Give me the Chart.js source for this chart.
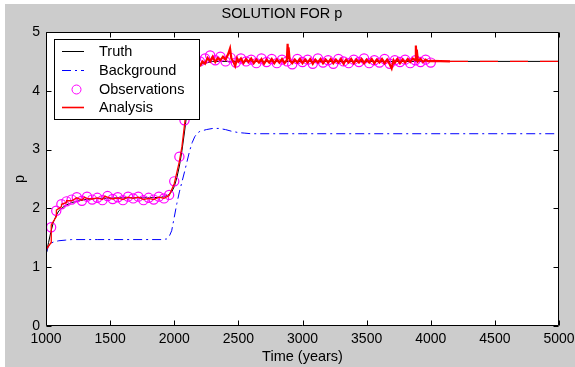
<!DOCTYPE html>
<html><head><meta charset="utf-8">
<script src="https://cdn.jsdelivr.net/npm/chart.js@4"></script>
<style>html,body{margin:0;padding:0;background:#fff;}canvas{display:block;}</style>
</head><body>
<canvas id="c" width="575" height="367"></canvas>
<script>
const chartTitle = 'SOLUTION FOR p';
const xTitle = 'Time (years)';
const yTitle = 'p';
const seriesNames = ['Truth', 'Background', 'Observations', 'Analysis'];
const seriesColors = ['#000000', '#0000ff', '#ff00ff', '#ff0000'];
const xTicks = [1000, 1500, 2000, 2500, 3000, 3500, 4000, 4500, 5000];
const yTicks = [0, 1, 2, 3, 4, 5];

const truthX = [1000,1010,1020,1040,1060,1080,1100,1150,1200,1300,1400,1600,1800,1900,1950,1980,2000,2020,2040,2060,2080,2100,2120,2150,2180,2220,2300,2500,5000];
const truthY = [1.2,1.32,1.42,1.62,1.78,1.88,1.96,2.05,2.1,2.15,2.17,2.18,2.18,2.19,2.22,2.28,2.37,2.52,2.72,2.98,3.3,3.65,3.95,4.22,4.38,4.46,4.5,4.5,4.5];

const backgroundX = [1000,1010,1020,1040,1060,1080,1100,1150,1200,1400,1600,1800,1900,1940,1960,1980,2000,2020,2040,2060,2080,2100,2120,2140,2160,2180,2200,2250,2300,2350,2400,2450,2500,2550,2600,3000,4000,5000];
const backgroundY = [1.22,1.3,1.36,1.41,1.43,1.44,1.45,1.46,1.47,1.47,1.47,1.47,1.47,1.48,1.52,1.62,1.85,2.08,2.28,2.45,2.62,2.8,2.98,3.12,3.22,3.28,3.31,3.34,3.36,3.36,3.34,3.31,3.29,3.28,3.27,3.27,3.27,3.27];

const obsX = [1040,1080,1120,1160,1200,1240,1280,1320,1360,1400,1440,1480,1520,1560,1600,1640,1680,1720,1760,1800,1840,1880,1920,1960,2000,2040,2080,2120,2160,2200,2240,2280,2320,2360,2400,2440,2480,2520,2560,2600,2640,2680,2720,2760,2800,2840,2880,2920,2960,3000,3040,3080,3120,3160,3200,3240,3280,3320,3360,3400,3440,3480,3520,3560,3600,3640,3680,3720,3760,3800,3840,3880,3920,3960,4000];
const obsY = [1.68,1.96,2.07,2.12,2.15,2.19,2.13,2.20,2.15,2.18,2.14,2.21,2.16,2.19,2.14,2.20,2.17,2.20,2.14,2.18,2.15,2.20,2.17,2.23,2.46,2.88,3.50,4.25,4.42,4.50,4.55,4.60,4.52,4.58,4.50,4.56,4.48,4.55,4.50,4.53,4.47,4.55,4.49,4.54,4.47,4.53,4.50,4.45,4.54,4.49,4.53,4.46,4.55,4.48,4.52,4.46,4.54,4.50,4.47,4.53,4.49,4.55,4.47,4.52,4.48,4.54,4.46,4.52,4.49,4.53,4.47,4.52,4.49,4.53,4.48];

const analysisX = [1000,1001,1040,1041,1080,1081,1120,1121,1160,1161,1200,1240,1280,1300,1320,1360,1400,1440,1460,1480,1520,1560,1600,1640,1680,1720,1760,1800,1840,1880,1920,1960,2000,2040,2060,2080,2100,2120,2140,2160,2180,
2200,2220,2240,2260,2280,2300,2320,2340,2360,2380,2400,2420,2435,2445,2460,2475,2490,2500,2520,2540,2560,2580,2600,2620,2640,2660,2680,2700,2720,2740,2760,2780,2800,2820,2840,2860,2878,2884,2888,2891,2900,2920,2940,2960,2980,3000,3020,3040,3060,3080,3100,3120,3140,3160,3180,3200,3220,3240,3260,3280,3300,3320,3340,3360,3380,3400,3420,3440,3460,3480,3500,3520,3540,3560,3580,3600,3620,3640,3660,3680,3695,3710,3720,3740,3760,3780,3800,3820,3840,3860,3878,3884,3888,3891,3900,3920,3940,3960,3980,4000,4150,5000];
const analysisY = [0.90,1.30,1.42,1.72,1.86,1.97,2.03,2.07,2.10,2.13,2.13,2.18,2.14,2.19,2.17,2.16,2.18,2.15,2.21,2.19,2.16,2.18,2.15,2.19,2.17,2.19,2.15,2.17,2.15,2.19,2.17,2.22,2.42,2.80,3.05,3.42,3.78,4.15,4.32,4.40,4.36,
4.42,4.50,4.46,4.56,4.50,4.58,4.49,4.56,4.52,4.58,4.53,4.62,4.72,4.55,4.50,4.42,4.55,4.50,4.55,4.47,4.54,4.49,4.55,4.47,4.53,4.48,4.54,4.46,4.53,4.48,4.54,4.47,4.53,4.48,4.54,4.47,4.52,4.80,4.56,4.74,4.52,4.47,4.53,4.48,4.54,4.47,4.53,4.48,4.54,4.46,4.53,4.48,4.54,4.47,4.53,4.48,4.54,4.47,4.53,4.48,4.54,4.46,4.53,4.48,4.54,4.47,4.53,4.48,4.54,4.47,4.53,4.48,4.54,4.47,4.53,4.48,4.54,4.47,4.53,4.45,4.38,4.52,4.48,4.54,4.47,4.53,4.48,4.54,4.49,4.55,4.52,4.77,4.56,4.70,4.50,4.54,4.49,4.53,4.50,4.51,4.50,4.50];

const pts = (xs, ys) => xs.map((x, i) => ({x: x, y: ys[i]}));
const FONT = "'Liberation Sans', Arial, sans-serif";
const BG_DASH = [9, 4, 2, 4];

const framePlugin = {
  id: 'frame',
  beforeDraw(chart) {
    const c = chart.ctx, a = chart.chartArea;
    c.save();
    c.fillStyle = '#ffffff'; c.fillRect(0, 0, chart.width, chart.height);
    c.fillStyle = '#cccccc'; c.fillRect(5, 4, chart.width - 5, chart.height - 4);
    c.fillStyle = '#ffffff'; c.fillRect(a.left, a.top, a.right - a.left, a.bottom - a.top);
    c.restore();
  },
  afterDraw(chart) {
    const c = chart.ctx, a = chart.chartArea;
    const xs = chart.scales.x, ys = chart.scales.y;
    c.save();
    c.strokeStyle = '#000'; c.lineWidth = 1;
    c.beginPath();
    const L = Math.round(a.left) + 0.5, R = Math.round(a.right) - 0.5, T = Math.round(a.top) + 0.5, B = Math.round(a.bottom) - 0.5;
    c.rect(L, T, R - L, B - T);
    xTicks.forEach(v => { const px = Math.round(xs.getPixelForValue(v)) + 0.5; c.moveTo(px, B); c.lineTo(px, B - 5); c.moveTo(px, T); c.lineTo(px, T + 5); });
    yTicks.forEach(v => { const py = Math.round(ys.getPixelForValue(v)) + 0.5; c.moveTo(L, py); c.lineTo(L + 5, py); c.moveTo(R, py); c.lineTo(R - 5, py); });
    c.stroke();
    // legend box
    const bx = 54.5, by = 39.5, bw = 145, bh = 80;
    c.fillStyle = '#fff'; c.fillRect(bx, by, bw, bh);
    c.strokeRect(bx, by, bw, bh);
    const rows = [51.5, 70.5, 89.5, 107.5];
    c.font = '14.5px ' + FONT; c.textBaseline = 'middle'; c.textAlign = 'left';
    chart.data.datasets.forEach((ds, i) => {
      const y = rows[i];
      c.save();
      c.strokeStyle = seriesColors[i]; c.lineWidth = (i === 3) ? 1.6 : 1;
      if (i === 2) {
        c.beginPath(); c.arc(76.5, y, 4.5, 0, Math.PI * 2); c.stroke();
      } else {
        c.setLineDash(i === 1 ? BG_DASH : []);
        c.beginPath(); c.moveTo(62, y); c.lineTo(84, y); c.stroke();
      }
      c.restore();
      c.fillStyle = '#000';
      c.fillText(ds.label, 99, y);
    });
    c.restore();
  }
};

new Chart(document.getElementById('c'), {
  type: 'scatter',
  data: {
    datasets: [
      { label: seriesNames[0], data: pts(truthX, truthY), showLine: true, borderColor: seriesColors[0], borderWidth: 1, pointRadius: 0, order: 3 },
      { label: seriesNames[1], data: pts(backgroundX, backgroundY), showLine: true, borderColor: seriesColors[1], borderWidth: 1, borderDash: BG_DASH, pointRadius: 0, order: 2 },
      { label: seriesNames[2], data: pts(obsX, obsY), showLine: false, borderColor: seriesColors[2], backgroundColor: 'rgba(0,0,0,0)', pointBorderWidth: 1.2, pointRadius: 4.6, pointStyle: 'circle', order: 1 },
      { label: seriesNames[3], data: pts(analysisX, analysisY), showLine: true, borderColor: seriesColors[3], borderWidth: 1.3, pointRadius: 0, order: 0,
        segment: {
          borderDash: ctx => (ctx.p0.parsed.x >= 4150 ? [18, 12] : undefined),
          borderWidth: ctx => (ctx.p0.parsed.x >= 2200 && ctx.p0.parsed.x < 4150 ? 2.2 : 1.3)
        } }
    ]
  },
  options: {
    responsive: false, animation: false, devicePixelRatio: 1,
    layout: { padding: { left: 5, right: 16, top: 0, bottom: 0 }, autoPadding: false },
    plugins: {
      legend: { display: false }, tooltip: { enabled: false },
      title: { display: true, text: chartTitle, color: '#000', font: { family: FONT, size: 14.5, weight: 'normal' }, padding: { top: 5.5, bottom: 9.1 } }
    },
    scales: {
      x: {
        type: 'linear', min: 1000, max: 5000,
        afterBuildTicks: s => { s.ticks = xTicks.map(v => ({value: v})); },
        afterFit: s => { s.height = 41; s.paddingLeft = 0; s.paddingRight = 0; },
        grid: { display: false, drawTicks: false }, border: { display: false },
        ticks: { color: '#000', font: { family: FONT, size: 14 }, padding: 5, maxRotation: 0, autoSkip: false, callback: v => String(v) },
        title: { display: true, text: xTitle, color: '#000', font: { family: FONT, size: 14.5 }, padding: { top: 0, bottom: 1.3 } }
      },
      y: {
        type: 'linear', min: 0, max: 5,
        afterBuildTicks: s => { s.ticks = yTicks.map(v => ({value: v})); },
        afterFit: s => { s.width = 41; s.paddingTop = 0; s.paddingBottom = 0; },
        grid: { display: false, drawTicks: false }, border: { display: false },
        ticks: { color: '#000', font: { family: FONT, size: 14 }, padding: 6, autoSkip: false, callback: v => String(v) },
        title: { display: true, text: yTitle, color: '#000', font: { family: FONT, size: 14.5 }, padding: { top: 6.3, bottom: 0 } }
      }
    }
  },
  plugins: [framePlugin]
});
</script>
</body></html>
